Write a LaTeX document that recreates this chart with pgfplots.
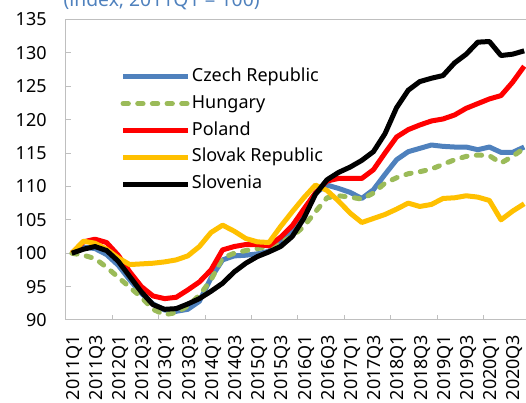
\documentclass[border=0pt]{standalone}
\usepackage{fontspec}
\setmainfont{Noto Sans}
\usepackage{pgfplots}
\pgfplotsset{compat=1.18}
\definecolor{czblue}{RGB}{79,129,189}
\definecolor{hugreen}{RGB}{155,187,89}
\definecolor{plred}{RGB}{255,0,0}
\definecolor{skyellow}{RGB}{255,192,0}
\definecolor{axisgray}{RGB}{191,191,191}
\definecolor{titleblue}{RGB}{79,129,189}
\begin{document}
\begin{tikzpicture}[font=\fontsize{13.5}{16}\selectfont]
\begin{axis}[
  at={(0,0)}, anchor=south west,
  scale only axis, width=348pt, height=225.4pt,
  xmin=-0.5, xmax=39.5, ymin=90, ymax=135,
  xtick={0,2,...,38},
  xticklabels={2011Q1,2011Q3,2012Q1,2012Q3,2013Q1,2013Q3,2014Q1,2014Q3,2015Q1,2015Q3,2016Q1,2016Q3,2017Q1,2017Q3,2018Q1,2018Q3,2019Q1,2019Q3,2020Q1,2020Q3},
  ytick={90,95,...,135},
  minor xtick={3.5,7.5,...,35.5},
  minor ytick={95,100,...,130},
  major tick length=0pt, minor tick length=4pt,
  tick align=inside, tick pos=left,
  minor tick style={draw=axisgray, line width=0.75pt},
  axis line style={draw=axisgray, line width=0.75pt},
  /pgf/number format/assume math mode=true,
  xticklabel style={xshift=1.8pt, rotate=90, anchor=east},
  xticklabel shift=7.5pt,
  yticklabel shift=11pt,
  legend cell align=left,
  legend image code/.code={\draw[#1] (0pt,0pt) -- (48.75pt,0pt);},
  legend style={at={(0.117,0.843)}, anchor=north west, draw=none, fill=none,
    row sep=5.1pt, inner sep=0pt,
    nodes={inner sep=1pt, text height=10pt, text depth=3pt}},
  every axis plot/.append style={line width=3.75pt, line join=round},
]
\addplot[czblue] coordinates {
(0,100) (1,100.9) (2,100.7) (3,99.8) (4,98.2) (5,96.0) (6,94.0) (7,92.4) (8,91.5) (9,91.3)
(10,91.6) (11,92.8) (12,96.3) (13,99.0) (14,99.6) (15,99.7) (16,99.9) (17,100.3) (18,101.6) (19,103.5)
(20,106.5) (21,109.0) (22,110.2) (23,109.7) (24,109.1) (25,108.2) (26,109.5) (27,111.8) (28,114.0) (29,115.2)
(30,115.7) (31,116.2) (32,116.0) (33,115.9) (34,115.9) (35,115.5) (36,115.9) (37,115.1) (38,115.1) (39,115.9)};
\addlegendentry{Czech Republic}
\addplot[hugreen, dash pattern=on 4pt off 7pt, line cap=round] coordinates {
(0,100) (1,99.7) (2,99.2) (3,97.9) (4,96.4) (5,94.9) (6,93.4) (7,91.6) (8,90.8) (9,91.1)
(10,92.1) (11,93.7) (12,96.0) (13,99.3) (14,100.0) (15,100.4) (16,100.7) (17,101.0) (18,101.6) (19,102.5)
(20,104.0) (21,106.2) (22,108.3) (23,108.6) (24,108.4) (25,108.1) (26,109.0) (27,110.5) (28,111.3) (29,111.9)
(30,112.2) (31,112.6) (32,113.3) (33,114.0) (34,114.5) (35,114.7) (36,114.6) (37,113.5) (38,114.5) (39,115.7)};
\addlegendentry{Hungary}
\addplot[plred] coordinates {
(0,100) (1,101.7) (2,102.1) (3,101.6) (4,99.7) (5,97.2) (6,95.0) (7,93.6) (8,93.2) (9,93.4)
(10,94.5) (11,95.7) (12,97.5) (13,100.5) (14,101.0) (15,101.3) (16,101.3) (17,101.1) (18,102.4) (19,104.1)
(20,106.6) (21,109.0) (22,110.8) (23,111.2) (24,111.2) (25,111.2) (26,112.5) (27,115.0) (28,117.4) (29,118.5)
(30,119.2) (31,119.8) (32,120.1) (33,120.7) (34,121.7) (35,122.4) (36,123.1) (37,123.6) (38,125.6) (39,128.0)};
\addlegendentry{Poland}
\addplot[skyellow] coordinates {
(0,100) (1,101.8) (2,101.5) (3,100.6) (4,99.3) (5,98.3) (6,98.4) (7,98.5) (8,98.7) (9,99.0)
(10,99.6) (11,101.0) (12,103.1) (13,104.2) (14,103.3) (15,102.2) (16,101.7) (17,101.6) (18,104.0) (19,106.2)
(20,108.3) (21,110.2) (22,109.4) (23,107.8) (24,106.0) (25,104.6) (26,105.2) (27,105.8) (28,106.6) (29,107.5)
(30,107.0) (31,107.3) (32,108.2) (33,108.3) (34,108.6) (35,108.4) (36,107.9) (37,105.0) (38,106.3) (39,107.4)};
\addlegendentry{Slovak Republic}
\addplot[black] coordinates {
(0,100) (1,100.6) (2,101.0) (3,100.4) (4,98.8) (5,96.5) (6,94.2) (7,92.3) (8,91.6) (9,91.7)
(10,92.4) (11,93.2) (12,94.3) (13,95.5) (14,97.2) (15,98.5) (16,99.5) (17,100.2) (18,101.0) (19,102.5)
(20,105.2) (21,108.8) (22,111.0) (23,112.1) (24,112.9) (25,113.9) (26,115.2) (27,117.9) (28,121.8) (29,124.4)
(30,125.7) (31,126.2) (32,126.6) (33,128.5) (34,129.8) (35,131.6) (36,131.7) (37,129.6) (38,129.8) (39,130.3)};
\addlegendentry{Slovenia}
\end{axis}
\node[anchor=base west, inner sep=0pt, text=titleblue, font=\fontsize{14.5}{17}\selectfont] at (-2pt,235.2pt) {(index, 2011Q1 = 100)};
\pgfresetboundingbox
\useasboundingbox (-49.5pt,-62.25pt) rectangle (345pt,240pt);
\end{tikzpicture}
\end{document}
